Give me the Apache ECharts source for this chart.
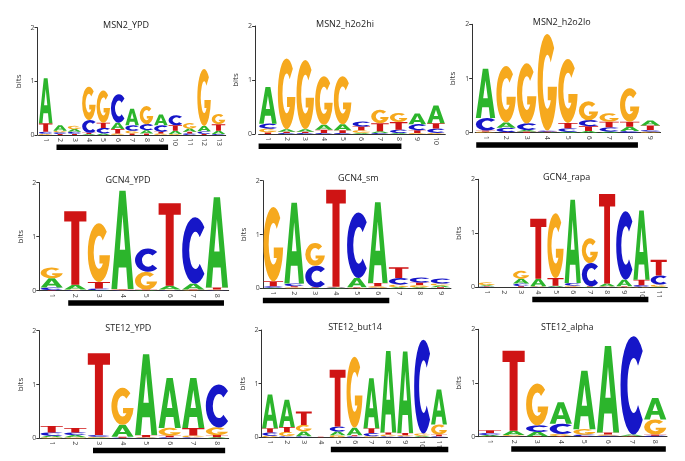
<!DOCTYPE html>
<html><head><meta charset="utf-8">
<script src="https://cdn.jsdelivr.net/npm/echarts@6/dist/echarts.min.js"></script>
<style>html,body{margin:0;padding:0;background:#fff}#c{width:685px;height:461px}</style>
</head><body><div id="c"></div>
<script>
// ---------- DATA (bits per letter at each position) ----------
const panelTitles = ['MSN2_YPD','MSN2_h2o2hi','MSN2_h2o2lo','GCN4_YPD','GCN4_sm','GCN4_rapa','STE12_YPD','STE12_but14','STE12_alpha'];
const yTickLabels = ['0','1','2'];

const MSN2_YPD_A = [0.84,0.10,0.05,0.02,0.03,0.12,0.31,0.06,0.20,0.06,0.06,0.10,0.06];
const MSN2_YPD_C = [0.04,0.03,0.04,0.24,0.10,0.53,0.10,0.11,0.12,0.19,0.03,0.05,0.02];
const MSN2_YPD_G = [0.02,0.03,0.06,0.62,0.60,0.03,0.05,0.34,0.03,0.02,0.10,1.06,0.19];
const MSN2_YPD_T = [0.16,0.02,0.02,0.02,0.10,0.08,0.03,0.03,0.03,0.10,0.03,0.02,0.12];

const MSN2_h2o2hi_A = [0.68,0.05,0.05,0.09,0.11,0.02,0.03,0.02,0.20,0.33];
const MSN2_h2o2hi_C = [0.09,0.02,0.02,0.02,0.02,0.09,0.02,0.06,0.11,0.08];
const MSN2_h2o2hi_G = [0.07,1.31,1.28,0.90,0.89,0.05,0.25,0.17,0.02,0.02];
const MSN2_h2o2hi_T = [0.03,0.02,0.02,0.06,0.05,0.07,0.15,0.14,0.05,0.10];

const MSN2_h2o2lo_A = [0.91,0.10,0.03,0.01,0.02,0.03,0.02,0.08,0.09];
const MSN2_h2o2lo_C = [0.23,0.08,0.12,0.02,0.06,0.11,0.08,0.03,0.03];
const MSN2_h2o2lo_G = [0.02,1.04,1.11,1.78,1.18,0.35,0.16,0.62,0.02];
const MSN2_h2o2lo_T = [0.02,0.01,0.02,0.01,0.10,0.09,0.10,0.09,0.085];

const GCN4_YPD_A = [0.17,0.09,0.01,1.82,0.01,0.07,0.11,1.67];
const GCN4_YPD_C = [0.05,0.01,0.03,0.01,0.43,0.01,1.23,0.01];
const GCN4_YPD_G = [0.20,0.01,1.09,0.01,0.33,0.01,0.01,0.01];
const GCN4_YPD_T = [0.01,1.36,0.12,0.01,0.01,1.53,0.01,0.04];

const GCN4_sm_A = [0.01,1.50,0.01,0.01,0.17,1.50,0.02,0.02,0.03];
const GCN4_sm_C = [0.03,0.05,0.40,0.01,1.22,0.01,0.12,0.09,0.09];
const GCN4_sm_G = [1.38,0.02,0.42,0.01,0.01,0.03,0.05,0.04,0.04];
const GCN4_sm_T = [0.09,0.02,0.01,1.80,0.01,0.06,0.20,0.05,0.02];

const GCN4_rapa_A = [0.02,0.00,0.09,0.14,0.02,1.54,0.01,0.05,0.12,1.28,0.01];
const GCN4_rapa_C = [0.01,0.00,0.05,0.01,0.01,0.05,0.43,0.01,1.27,0.03,0.17];
const GCN4_rapa_G = [0.05,0.00,0.14,0.01,1.20,0.02,0.46,0.01,0.01,0.01,0.04];
const GCN4_rapa_T = [0.01,0.00,0.02,1.11,0.14,0.01,0.01,1.66,0.01,0.10,0.29];

const STE12_YPD_A = [0.03,0.04,0.01,0.22,1.50,0.93,0.93,0.02];
const STE12_YPD_C = [0.06,0.05,0.03,0.01,0.01,0.02,0.02,0.80];
const STE12_YPD_G = [0.02,0.02,0.02,0.69,0.01,0.14,0.03,0.14];
const STE12_YPD_T = [0.12,0.08,1.52,0.02,0.04,0.03,0.14,0.04];

const STE12_but14_A = [0.63,0.51,0.09,0.00,0.07,0.14,0.93,1.52,1.52,0.02,0.65];
const STE12_but14_C = [0.06,0.02,0.02,0.00,0.09,0.02,0.06,0.02,0.02,1.75,0.02];
const STE12_but14_G = [0.03,0.08,0.12,0.00,0.04,1.32,0.02,0.03,0.02,0.04,0.19];
const STE12_but14_T = [0.08,0.09,0.25,0.01,1.06,0.02,0.09,0.04,0.04,0.01,0.03];

const STE12_alpha_A = [0.02,0.08,0.08,0.40,1.09,1.61,0.02,0.40];
const STE12_alpha_C = [0.04,0.01,0.12,0.19,0.03,0.02,1.83,0.02];
const STE12_alpha_G = [0.01,0.02,0.78,0.04,0.10,0.02,0.01,0.28];
const STE12_alpha_T = [0.05,1.49,0.01,0.01,0.01,0.04,0.01,0.02];

// black core-motif bars: start / end in position units
const coreStart = [1.75,0.5,0.55,1.7,0.5,3.65,2.75,4.6,1.9];
const coreEnd   = [9.5,8.15,8.4,8.3,6.55,10.4,8.35,11.55,8.45];

// ---------- STYLE / LAYOUT ----------
const panelData = [
  [MSN2_YPD_A,MSN2_YPD_C,MSN2_YPD_G,MSN2_YPD_T],
  [MSN2_h2o2hi_A,MSN2_h2o2hi_C,MSN2_h2o2hi_G,MSN2_h2o2hi_T],
  [MSN2_h2o2lo_A,MSN2_h2o2lo_C,MSN2_h2o2lo_G,MSN2_h2o2lo_T],
  [GCN4_YPD_A,GCN4_YPD_C,GCN4_YPD_G,GCN4_YPD_T],
  [GCN4_sm_A,GCN4_sm_C,GCN4_sm_G,GCN4_sm_T],
  [GCN4_rapa_A,GCN4_rapa_C,GCN4_rapa_G,GCN4_rapa_T],
  [STE12_YPD_A,STE12_YPD_C,STE12_YPD_G,STE12_YPD_T],
  [STE12_but14_A,STE12_but14_C,STE12_but14_G,STE12_but14_T],
  [STE12_alpha_A,STE12_alpha_C,STE12_alpha_G,STE12_alpha_T]
];
const grids = [
  {left:38.5, top:27.7, width:187.2, height:107.3, yOff:1, tx:121, ty:22},
  {left:258.6, top:26, width:186.7, height:108, yOff:3.5, tx:340, ty:20.7},
  {left:475.2, top:24.3, width:185.4, height:108.4, yOff:3, tx:556.7, ty:19.3},
  {left:39.9, top:182.7, width:188.8, height:108, yOff:0.6, tx:123, ty:177.3},
  {left:262.85, top:180.7, width:188.1, height:107.6, yOff:0, tx:353.3, ty:175},
  {left:478.1, top:179.3, width:189.2, height:108, yOff:0, tx:561.7, ty:174},
  {left:39.9, top:330.7, width:188.8, height:107.6, yOff:0.6, tx:123.3, ty:325},
  {left:261.55, top:330, width:185.9, height:107.3, yOff:0, tx:350, ty:324},
  {left:478.2, top:329.3, width:188.8, height:107.4, yOff:0, tx:562.3, ty:324}
];
const LETTERS = ['A','C','G','T'];
const COLORS = {A:'#2cb52c', C:'#1616c8', G:'#f6a91e', T:'#cf1414'};
const GLYPH = {
  A: 'M0 100 L36 0 L64 0 L100 100 L74 100 L67 78 L33 78 L26 100 Z M38 60 L62 60 L50 24 Z',
  C: 'M85 15 A50 50 0 1 0 85 85 L67 70 A24 28 0 1 1 67 30 Z',
  G: 'M85 15 A50 50 0 1 0 99.5 55 L52 55 L52 69 L67.6 69 A24 28 0 1 1 67 30 Z',
  T: 'M0 0 L100 0 L100 14 L68 14 L68 100 L32 100 L32 14 L0 14 Z'
};
const FONT = 'Open Sans, Liberation Sans, sans-serif';

function logoRender(params, api) {
  const idx = api.value(0);
  const items = LETTERS.map((L, k) => ({L, h: api.value(k + 1)}))
    .filter(d => d.h > 0.003).sort((a, b) => a.h - b.h);
  const bw = api.size([1, 0])[0];
  const w = bw * 0.94;
  const cx = api.coord([idx, 0])[0];
  let acc = 0;
  const children = [];
  items.forEach(d => {
    const yb = api.coord([idx, acc])[1];
    const yt = api.coord([idx, acc + d.h])[1];
    acc += d.h;
    children.push({
      type: 'path',
      shape: {pathData: GLYPH[d.L], x: cx - w / 2, y: yt, width: w, height: Math.max(yb - yt, 0.3), layout: 'cover'},
      style: {fill: COLORS[d.L]}
    });
  });
  return {type: 'group', children};
}
function barRender(params, api) {
  const s = api.value(2), e = api.value(3);
  const bw = api.size([1, 0])[0];
  const p0 = api.coord([0, 0]);
  const x0 = p0[0] + (s - 1) * bw, x1 = p0[0] + (e - 1) * bw;
  return {type: 'rect', shape: {x: x0, y: p0[1] + 9.5, width: x1 - x0, height: 5.5}, style: {fill: '#000'}};
}

const option = {animation: false, title: [], grid: [], xAxis: [], yAxis: [], series: []};
panelData.forEach((pd, i) => {
  const g = grids[i];
  const n = pd[0].length;
  const cats = Array.from({length: n}, (_, k) => String(k + 1));
  option.title.push({text: panelTitles[i], left: g.tx, top: g.ty - 6, textAlign: 'center',
    textStyle: {fontSize: 9, fontWeight: 'normal', color: '#222', fontFamily: FONT}});
  option.grid.push({left: g.left, top: g.top, width: g.width, height: g.height});
  option.xAxis.push({type: 'category', gridIndex: i, data: cats, boundaryGap: true,
    axisLine: {show: true, lineStyle: {color: '#333', width: 1}},
    axisTick: {show: false},
    axisLabel: {fontSize: 7, rotate: -90, margin: 3, color: '#444', fontFamily: FONT, interval: 0},
    splitLine: {show: false}});
  option.yAxis.push({type: 'value', gridIndex: i, min: 0, max: 2, interval: 1, offset: g.yOff,
    name: 'bits', nameLocation: 'middle', nameGap: 15, nameRotate: 90,
    nameTextStyle: {fontSize: 8, color: '#333', fontFamily: FONT},
    axisLine: {show: true, lineStyle: {color: '#333', width: 1}},
    axisTick: {show: true, length: 3, lineStyle: {color: '#333'}},
    axisLabel: {fontSize: 7, margin: 3, color: '#444', fontFamily: FONT,
      formatter: v => yTickLabels[Math.round(v)]},
    splitLine: {show: false}});
  const data = cats.map((c, k) => [k, pd[0][k], pd[1][k], pd[2][k], pd[3][k]]);
  option.series.push({type: 'custom', xAxisIndex: i, yAxisIndex: i, renderItem: logoRender,
    data: data, encode: {x: 0, y: 1}, clip: false, silent: true});
  option.series.push({type: 'custom', xAxisIndex: i, yAxisIndex: i, renderItem: barRender,
    data: [[0, 0, coreStart[i], coreEnd[i]]], encode: {x: 0, y: 1}, clip: false, silent: true});
});
const chart = echarts.init(document.getElementById('c'), null, {renderer: 'canvas'});
chart.setOption(option);
</script>
</body></html>
